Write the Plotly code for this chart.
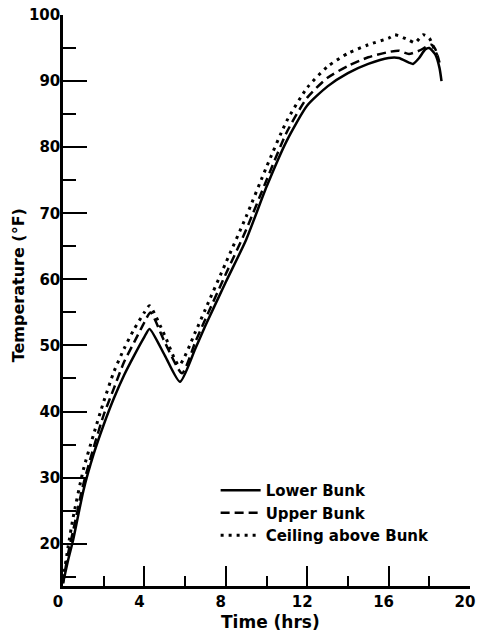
import plotly.graph_objects as go

# Lower Bunk (solid)
lower_t = [0, 0.25, 0.5, 1, 1.5, 2, 2.5, 3, 3.5, 4, 4.25, 5, 5.75, 6.5, 7, 8, 9, 10, 11, 12, 13, 14, 15, 16, 16.5, 17, 17.2, 17.5, 17.8, 18.0, 18.3, 18.5, 18.6]
lower_T = [14, 17.5, 20.6, 28, 33.5, 38, 42, 45.5, 48.5, 51.3, 52.5, 48.5, 44.5, 49.5, 53, 59.6, 66, 74, 81, 86.3, 89.2, 91.2, 92.6, 93.5, 93.5, 92.8, 92.6, 93.5, 94.8, 95, 94, 92, 90]

# Upper Bunk (dashed)
upper_t = [0, 0.25, 0.5, 1, 1.5, 2, 2.5, 3, 3.5, 4, 4.3, 5, 5.85, 6.5, 7, 8, 9, 10, 11, 12, 13, 14, 15, 16, 16.5, 17, 17.5, 18.1, 18.3, 18.5]
upper_T = [14, 18.5, 22, 29, 34.5, 39.5, 43.5, 47.5, 50.5, 53.5, 55, 50.5, 45.8, 50.5, 54, 60.8, 67.5, 75, 82.3, 87.5, 90.5, 92.3, 93.6, 94.4, 94.6, 94.1, 94.6, 95.5, 94.8, 92.8]

# Ceiling above Bunk (dotted)
ceil_t = [0, 0.25, 0.5, 1, 1.5, 2, 2.5, 3, 3.5, 4, 4.25, 5, 5.7, 6.5, 7, 8, 9, 10, 11, 12, 13, 14, 15, 16, 16.3, 17, 17.3, 17.7, 18, 18.3, 18.5]
ceil_T = [14.5, 19.5, 24, 31.2, 36.5, 41.5, 46, 49.5, 52.5, 55, 56, 51.5, 47, 52, 55.5, 62.5, 69.5, 77, 84, 89, 92.2, 94.2, 95.5, 96.5, 97, 96.2, 95.8, 97, 96.5, 94.4, 93.2]

x_ticks = [0, 4, 8, 12, 16, 20]
y_ticks = [20, 30, 40, 50, 60, 70, 80, 90, 100]

FONT = "DejaVu Sans"
BOLD = dict(family=FONT, color="black", weight="bold")

fig = go.Figure()
fig.add_trace(go.Scatter(x=lower_t, y=lower_T, mode="lines", name="Lower Bunk",
                         line=dict(color="black", width=2.5, shape="spline", smoothing=0.6)))
fig.add_trace(go.Scatter(x=upper_t, y=upper_T, mode="lines", name="Upper Bunk",
                         line=dict(color="black", width=2.5, dash="9px,5px", shape="spline", smoothing=0.6)))
fig.add_trace(go.Scatter(x=ceil_t, y=ceil_T, mode="lines", name="Ceiling above Bunk",
                         line=dict(color="black", width=3, dash="3px,5px", shape="spline", smoothing=0.6)))

fig.update_layout(
    width=477, height=632,
    margin=dict(l=63, r=7, t=15, b=46, autoexpand=False),
    paper_bgcolor="white", plot_bgcolor="white",
    font=dict(family=FONT, color="black", size=14),
    showlegend=True,
    legend=dict(x=0.375, y=0.196, xanchor="left", yanchor="top",
                bgcolor="rgba(0,0,0,0)", font=dict(size=15, **BOLD),
                tracegroupgap=0, itemwidth=40),
    xaxis=dict(range=[0, 20], tickvals=x_ticks, ticktext=[str(v) for v in x_ticks],
               automargin=False,
               showgrid=False, zeroline=False, showline=True, linecolor="black", linewidth=2.5,
               ticks="inside", ticklen=20, tickwidth=2, tickcolor="black",
               minor=dict(dtick=2, tick0=0, ticks="inside", ticklen=10, tickwidth=2, tickcolor="black", showgrid=False),
               tickfont=dict(size=15, **BOLD), ticklabeloverflow="allow", ticklabelshift=-5),
    yaxis=dict(range=[13.6, 100], tickvals=y_ticks, ticktext=[str(v) for v in y_ticks],
               automargin=False,
               showgrid=False, zeroline=False, showline=True, linecolor="black", linewidth=2.5,
               ticks="inside", ticklen=24, tickwidth=2, tickcolor="black",
               minor=dict(dtick=5, tick0=0, ticks="inside", ticklen=13, tickwidth=2, tickcolor="black", showgrid=False),
               tickfont=dict(size=15, **BOLD), ticklabelstandoff=-3, ticklabeloverflow="allow"),
    annotations=[
        dict(text="Temperature (°F)", xref="paper", yref="paper", x=-0.11, y=0.527,
             xanchor="center", yanchor="middle",
             textangle=-90, showarrow=False, font=dict(size=16, **BOLD)),
        dict(text="Time (hrs)", xref="paper", yref="paper", x=0.509, y=-0.063,
             xanchor="center", yanchor="middle", showarrow=False, font=dict(size=17, **BOLD)),
    ],
)

# remove the browser's default 8px body margin so the figure fills the window exactly
fig.write_html("out.html",
               config={"displayModeBar": False},
               post_script="document.body.style.margin='0';document.body.style.overflow='hidden';")
